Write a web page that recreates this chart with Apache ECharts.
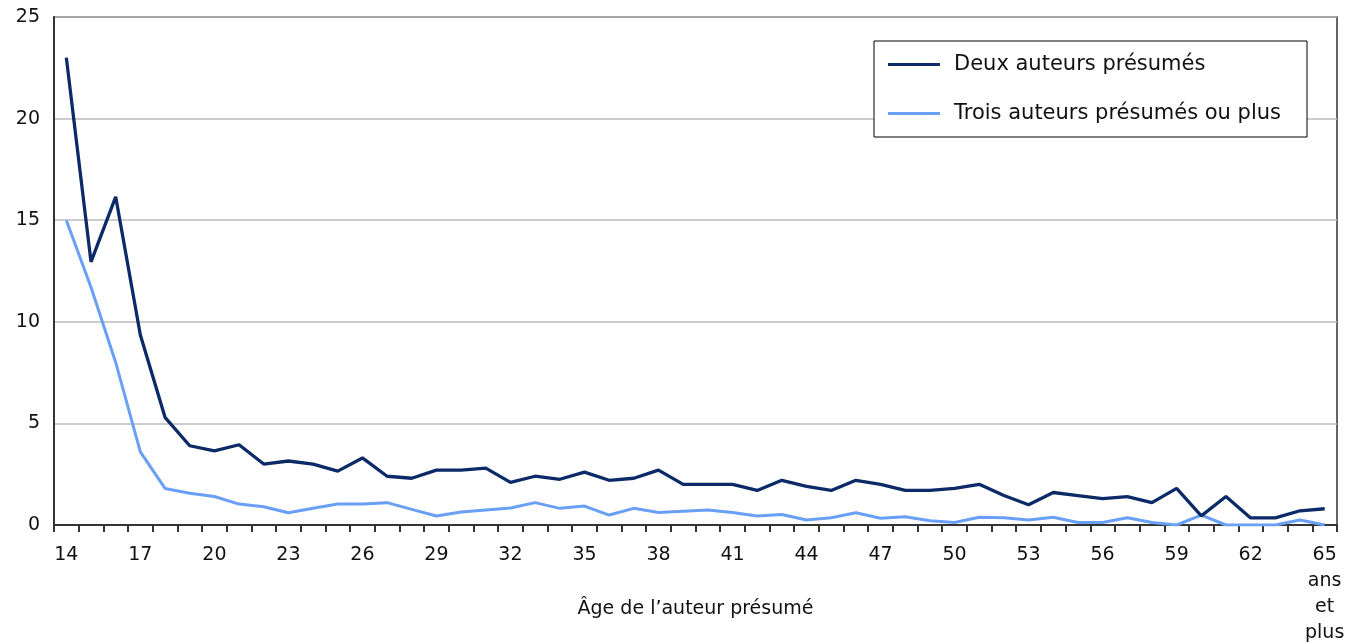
<!DOCTYPE html>
<html>
<head>
<meta charset="utf-8">
<script src="https://cdn.jsdelivr.net/npm/echarts@6/dist/echarts.min.js"></script>
<style>
  html, body { margin: 0; padding: 0; background: #fff; }
  #chart { width: 1356px; height: 644px; }
</style>
</head>
<body>
<div id="chart"></div>
<script>
// âges de l'auteur présumé
var ages = ['14', '15', '16', '17', '18', '19', '20', '21', '22', '23', '24', '25', '26', '27', '28', '29',
  '30', '31', '32', '33', '34', '35', '36', '37', '38', '39', '40', '41', '42', '43', '44', '45', '46', '47',
  '48', '49', '50', '51', '52', '53', '54', '55', '56', '57', '58', '59', '60', '61', '62', '63', '64',
  '65\nans\net\nplus']

var deuxAuteurs = [23.0, 12.95, 16.15, 9.35, 5.3, 3.9, 3.65, 3.95, 3.0, 3.15, 3.0, 2.65, 3.3, 2.4, 2.3,
  2.7, 2.7, 2.8, 2.1, 2.4, 2.25, 2.6, 2.2, 2.3, 2.7, 2.0, 2.0, 2.0, 1.7, 2.2, 1.9, 1.7, 2.2, 2.0, 1.7,
  1.7, 1.8, 2.0, 1.45, 1.0, 1.6, 1.45, 1.3, 1.4, 1.1, 1.8, 0.45, 1.4, 0.35, 0.35, 0.7, 0.8]

var troisAuteurs = [15.0, 11.7, 8.0, 3.6, 1.8, 1.56, 1.4, 1.03, 0.9, 0.6, 0.82, 1.03, 1.03, 1.1, 0.77,
  0.44, 0.64, 0.74, 0.84, 1.1, 0.82, 0.93, 0.49, 0.82, 0.62, 0.68, 0.74, 0.62, 0.44, 0.52, 0.25, 0.36,
  0.6, 0.33, 0.41, 0.21, 0.12, 0.38, 0.36, 0.25, 0.38, 0.12, 0.12, 0.36, 0.12, 0, 0.49, 0, 0, 0, 0.25, 0]

var seriesNames = ['Deux auteurs présumés', 'Trois auteurs présumés ou plus']
var seriesColors = ['#0c2a68', '#6a9ff6']

var font = 'DejaVu Sans'
var chart = echarts.init(document.getElementById('chart'))

chart.setOption({
  backgroundColor: '#fff',
  animation: false,
  grid: {
    left: 54,
    right: 19,
    top: 17,
    bottom: 119,
    outerBoundsMode: 'none',
    containLabel: false,
    show: true,
    borderColor: '#333',
    borderWidth: 1.5
  },
  legend: {
    orient: 'vertical',
    left: 874,
    top: 41,
    padding: [13, 26, 13, 14],
    itemGap: 28,
    itemWidth: 52,
    itemHeight: 3,
    icon: 'rect',
    borderColor: '#000',
    borderWidth: 1,
    backgroundColor: '#fff',
    data: seriesNames,
    textStyle: {
      fontFamily: font,
      fontSize: 21,
      color: '#111',
      lineHeight: 20,
      padding: [0, 0, 0, 9]
    }
  },
  xAxis: {
    type: 'category',
    data: ages,
    boundaryGap: true,
    name: 'Âge de l’auteur présumé',
    nameLocation: 'middle',
    nameGap: 75,
    nameMoveOverlap: false,
    nameTextStyle: { fontFamily: font, fontSize: 19, color: '#111' },
    axisLine: { lineStyle: { color: '#333', width: 2 } },
    axisTick: { show: true, interval: 0, length: 7, lineStyle: { color: '#333', width: 2 } },
    axisLabel: {
      interval: 2,
      margin: 17,
      fontFamily: font,
      fontSize: 19,
      lineHeight: 26,
      color: '#111'
    },
    splitLine: { show: false }
  },
  yAxis: {
    type: 'value',
    min: 0,
    max: 25,
    interval: 5,
    axisLine: { show: true, lineStyle: { color: '#333', width: 2 } },
    axisTick: { show: false },
    axisLabel: { margin: 14, fontFamily: font, fontSize: 19, color: '#111' },
    splitLine: { lineStyle: { color: '#bdbdbd', width: 1.5 } }
  },
  series: [
    {
      name: seriesNames[0],
      type: 'line',
      data: deuxAuteurs,
      symbol: 'none',
      itemStyle: { color: seriesColors[0] },
      lineStyle: { color: seriesColors[0], width: 3.3 },
      z: 3
    },
    {
      name: seriesNames[1],
      type: 'line',
      data: troisAuteurs,
      symbol: 'none',
      itemStyle: { color: seriesColors[1] },
      lineStyle: { color: seriesColors[1], width: 3 },
      z: 2
    }
  ]
})
</script>
</body>
</html>
